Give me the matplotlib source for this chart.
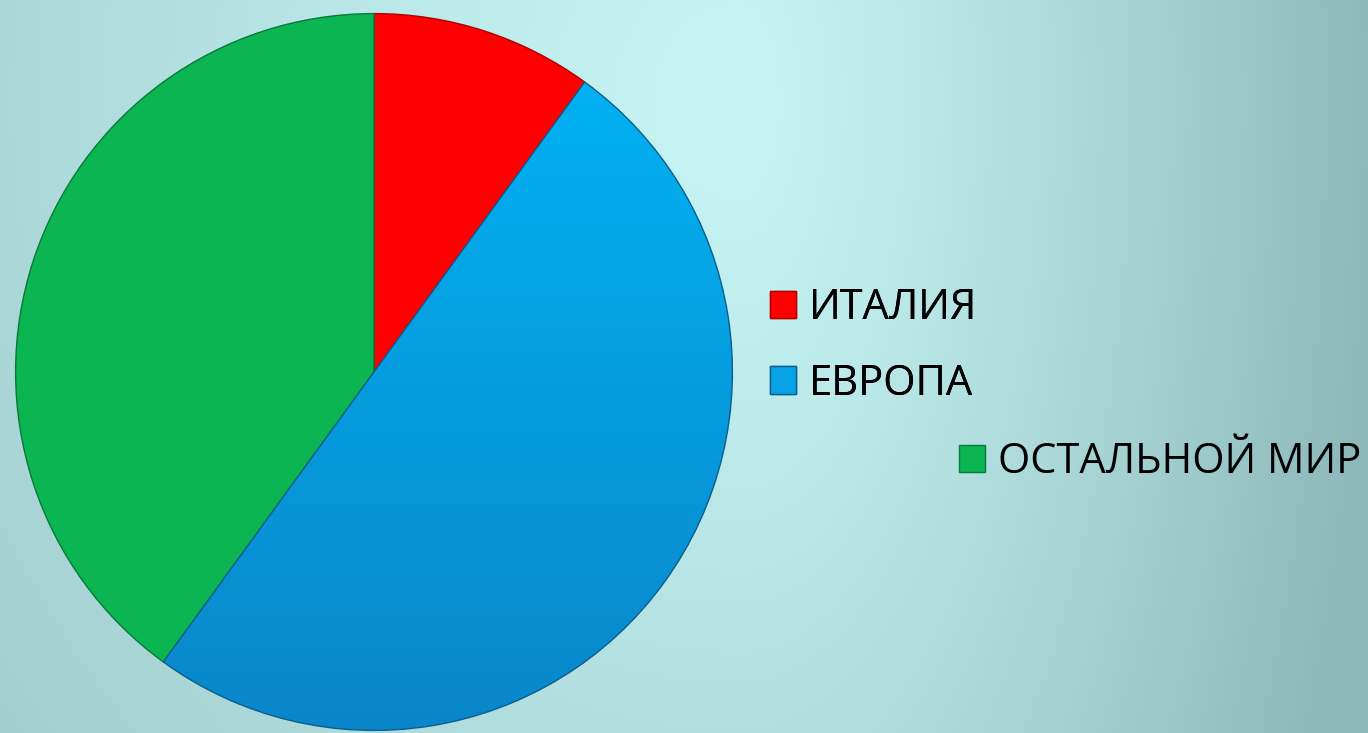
import matplotlib
matplotlib.use('Agg')
import matplotlib.pyplot as plt
import numpy as np
from matplotlib.patches import Patch

# ==[0] Data
labels = ['ИТАЛИЯ', 'ЕВРОПА', 'ОСТАЛЬНОЙ МИР']
values = [10, 50, 40]
colors = ['#FF0000', '#06A2E4', '#0BB552']
edges = ['#B00000', '#0B5E8C', '#087A38']

plt.rcParams['font.family'] = ['Open Sans', 'DejaVu Sans']

W, H = 1368, 733
fig = plt.figure(figsize=(W / 100, H / 100), dpi=100)

# ==[1] Background gradient (lightest near the top middle)
bg = fig.add_axes([0, 0, 1, 1], zorder=0)
yy, xx = np.mgrid[0:H, 0:W].astype(float)
dx = xx - 740
sx = np.where(dx < 0, 1360.0, 640.0)
d = np.sqrt((dx / sx) ** 2 + ((yy - 100) / 1500.0) ** 2)
t = np.clip(d, 0, 1) ** 1.25
c0 = np.array([198, 243, 243]) / 255.0
c1 = np.array([140, 184, 186]) / 255.0
img = c0[None, None, :] * (1 - t[..., None]) + c1[None, None, :] * t[..., None]
bg.imshow(img, aspect='auto', extent=[0, 1, 0, 1])
bg.axis('off')

# ==[2] Pie
cx, cy, r = 374, 372, 362
ax = fig.add_axes([(cx - r) / W, (H - cy - r) / H, 2 * r / W, 2 * r / H], zorder=1)
wedges, _ = ax.pie(values, colors=colors, startangle=90, counterclock=False,
                   wedgeprops=dict(linewidth=1.0))
for w, ec in zip(wedges, edges):
    w.set_edgecolor(ec)

# vertical shading of the blue slice
grad = np.linspace(0, 1, 256)[:, None]
top = np.array([0, 182, 246]) / 255.0
bot = np.array([10, 134, 202]) / 255.0
gimg = top[None, None, :] * (1 - grad[..., None]) + bot[None, None, :] * grad[..., None]
gimg = np.repeat(gimg, 2, axis=1)
im = ax.imshow(gimg, extent=[-1, 1, -1, 1], aspect='auto', zorder=2)
im.set_clip_path(wedges[1])
wedges[1].set_zorder(3)
wedges[1].set_facecolor('none')
ax.set_xlim(-1.01, 1.01)
ax.set_ylim(-1.01, 1.01)
ax.set_aspect('equal')
ax.axis('off')

# ==[3] Legend (two blocks, last entry shifted right)
lkw = dict(loc='center left', frameon=False, fontsize=30, handlelength=0.63,
           handleheight=0.63, handletextpad=0.3, borderpad=0, borderaxespad=0)
handles = [Patch(facecolor=c, edgecolor=e, linewidth=1.0) for c, e in zip(colors, edges)]
leg1 = fig.legend(handles[:2], labels[:2], bbox_to_anchor=(770 / W, 1 - 346 / H),
                  labelspacing=0.8, **lkw)
fig.add_artist(leg1)
fig.legend(handles[2:], labels[2:], bbox_to_anchor=(959 / W, 1 - 462 / H), **lkw)

fig.savefig('out.png', dpi=100)
